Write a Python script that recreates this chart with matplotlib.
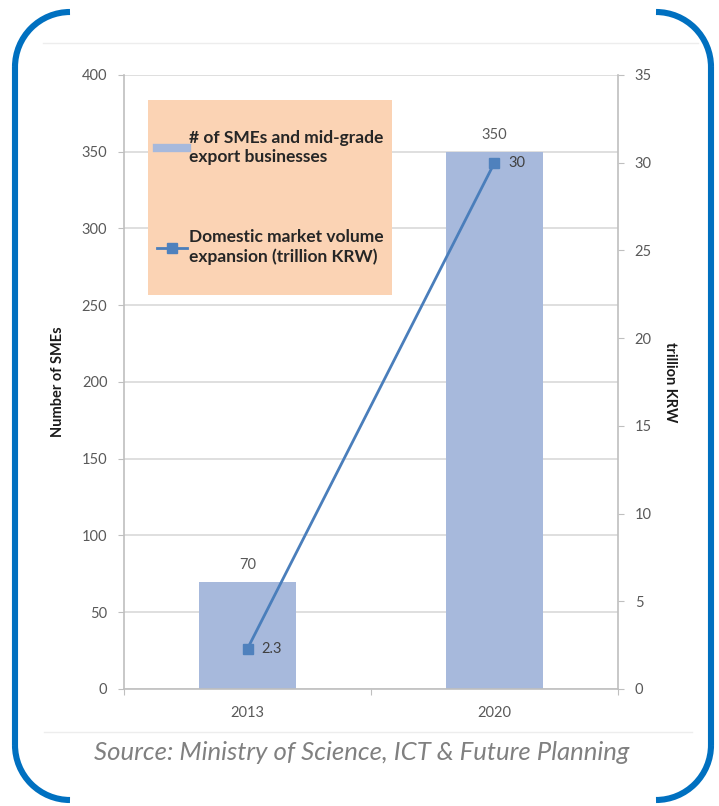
import numpy as np
import matplotlib.pyplot as plt
from matplotlib.patches import Arc, Rectangle
from matplotlib.lines import Line2D

plt.rcParams['font.family'] = ['Lato', 'DejaVu Sans']

# chart values
years = ['2013', '2020']
sme_counts = [70, 350]
market_volume = [2.3, 30]
left_ticks = [0, 50, 100, 150, 200, 250, 300, 350, 400]
right_ticks = [0, 5, 10, 15, 20, 25, 30, 35]

bar_color = '#A7B9DC'
line_color = '#4A7EBB'
tick_color = '#595959'
grid_color = '#D9D9D9'

fig = plt.figure(figsize=(7.19, 8.06), dpi=100)

ax = fig.add_axes([0.1725, 0.1452, 0.687, 0.7618])
x = np.arange(len(years))
ax.bar(x, sme_counts, width=0.395, color=bar_color, zorder=2)
ax.set_xlim(-0.5, 1.5)
ax.set_ylim(0, 400)
ax.set_yticks(left_ticks)
ax.yaxis.grid(True, color=grid_color, linewidth=1.2, zorder=0)
ax.set_axisbelow(True)
ax.set_xticks([-0.5, 0.5, 1.5])
ax.set_xticklabels([])
ax.set_xticks(x, minor=True)
ax.set_xticklabels(years, minor=True)
ax.tick_params(axis='x', which='minor', length=0, pad=12, labelsize=10.5, labelcolor=tick_color)
ax.tick_params(axis='x', which='major', length=4, color='#BFBFBF', direction='out')
ax.tick_params(axis='y', length=4, color='#BFBFBF', labelsize=10.5, labelcolor=tick_color, pad=8)
for side in ['top', 'right']:
    ax.spines[side].set_visible(False)
for side in ['left', 'bottom']:
    ax.spines[side].set_color('#BFBFBF')
    ax.spines[side].set_linewidth(1.2)
ax.set_ylabel('Number of SMEs', fontsize=10.5, fontweight='bold', color='#1a1a1a', labelpad=12)

for xi, v in zip(x, sme_counts):
    ax.annotate(str(v), (xi, v), xytext=(0, 12), textcoords='offset points',
                ha='center', va='center', fontsize=10.5, color=tick_color)

ax2 = ax.twinx()
ax2.plot(x, market_volume, color=line_color, linewidth=2, marker='s', markersize=7.5,
         markerfacecolor='#4F81BD', markeredgecolor='#4F81BD', zorder=3)
ax2.set_ylim(0, 35)
ax2.set_yticks(right_ticks)
ax2.tick_params(axis='y', length=4, color='#BFBFBF', labelsize=10.5, labelcolor=tick_color, pad=8)
for side in ['top', 'left', 'bottom']:
    ax2.spines[side].set_visible(False)
ax2.spines['right'].set_color('#BFBFBF')
ax2.spines['right'].set_linewidth(1.2)
ax2.set_ylabel('trillion KRW', fontsize=10.5, fontweight='bold', color='#1a1a1a',
               rotation=-90, labelpad=18)

for xi, v in zip(x, market_volume):
    ax2.annotate(f'{v:g}', (xi, v), xytext=(10, 0), textcoords='offset points',
                 ha='left', va='center', fontsize=10.5, color='#404040')

# legend panel
ax2.add_patch(Rectangle((0.0486, 0.6417), 0.494, 0.3176, transform=ax2.transAxes,
                        facecolor='#FBD3B4', edgecolor='none', zorder=4))
handles = [Line2D([0], [0], color=bar_color, linewidth=6),
           Line2D([0], [0], color=line_color, linewidth=2, marker='s', markersize=7,
                  markerfacecolor='#4F81BD', markeredgecolor='#4F81BD')]
labels = ['# of SMEs and mid-grade\nexport businesses',
          'Domestic market volume\nexpansion (trillion KRW)']
leg = ax2.legend(handles, labels, loc='upper left', bbox_to_anchor=(0.0668, 0.9104),
                 frameon=False, prop={'weight': 'bold', 'size': 12.5},
                 labelspacing=3.7, handlelength=1.75, handletextpad=0.1,
                 borderpad=0, borderaxespad=0)
for t in leg.get_texts():
    t.set_color('#262626')
    t.set_linespacing(1.25)
leg.set_zorder(5)

# outer frame and caption
frame = fig.add_axes([0, 0, 1, 1], facecolor='none')
frame.set_xlim(0, 719)
frame.set_ylim(806, 0)
frame.axis('off')
blue = '#0070C0'
lw = 4.4
r = 55
frame.add_patch(Arc((15 + r, 12 + r), 2 * r, 2 * r, theta1=180, theta2=270, color=blue, lw=lw))
frame.add_patch(Arc((711 - r, 12 + r), 2 * r, 2 * r, theta1=270, theta2=360, color=blue, lw=lw))
frame.add_patch(Arc((15 + r, 800 - r), 2 * r, 2 * r, theta1=90, theta2=180, color=blue, lw=lw))
frame.add_patch(Arc((711 - r, 800 - r), 2 * r, 2 * r, theta1=0, theta2=90, color=blue, lw=lw))
frame.plot([15, 15], [12 + r, 800 - r], color=blue, lw=lw, solid_capstyle='butt')
frame.plot([711, 711], [12 + r, 800 - r], color=blue, lw=lw, solid_capstyle='butt')
frame.plot([43, 698], [43, 43], color='#EDEDED', lw=1)
frame.plot([44, 692], [732, 732], color='#EDEDED', lw=1)
frame.text(362, 753, 'Source: Ministry of Science, ICT & Future Planning',
           ha='center', va='center', fontsize=18.5, style='italic', color='#808080')

fig.savefig('out.png', dpi=100)
